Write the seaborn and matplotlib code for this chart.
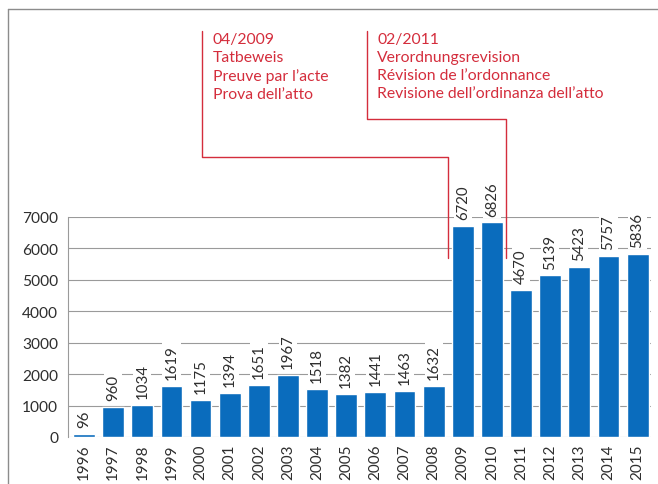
import pandas as pd
import matplotlib.pyplot as plt
from matplotlib.lines import Line2D
import seaborn as sns

# Data
years = [str(y) for y in range(1996, 2016)]
cases = [96, 960, 1034, 1619, 1175, 1394, 1651, 1967, 1518, 1382,
         1441, 1463, 1632, 6720, 6826, 4670, 5139, 5423, 5757, 5836]
yticks = [0, 1000, 2000, 3000, 4000, 5000, 6000, 7000]

event_texts = [
    "04/2009\nTatbeweis\nPreuve par l\u2019acte\nProva dell\u2019atto",
    "02/2011\nVerordnungsrevision\nR\u00e9vision de l\u2019ordonnance\nRevisione dell\u2019ordinanza dell\u2019atto",
]
event_pos = [12.5, 14.5]  # between bars

df = pd.DataFrame({'Jahr': years, 'Anzahl': cases})

sns.set_style('white')
plt.rcParams['font.family'] = ['Lato', 'DejaVu Sans']

fig = plt.figure(figsize=(6.58, 4.85), dpi=100)
ax = fig.add_axes([68 / 658, 47 / 485, 583 / 658, 220 / 485])

bar_color = '#0a6cbd'
red = '#d42d3c'
grey = '#8c8c8c'
txt_col = '#2e2e2e'

sns.barplot(data=df, x='Jahr', y='Anzahl', color=bar_color, width=0.75,
            saturation=1, ax=ax, zorder=2)

ax.set_xlim(-0.55, 19.46)
ax.set_ylim(0, 7000)
ax.set_yticks(yticks)
ax.set_yticklabels([str(t) for t in yticks], fontsize=11.2, color=txt_col)
ax.yaxis.grid(True, color='#9a9a9a', linewidth=0.8, zorder=0)
ax.set_axisbelow(True)
ax.tick_params(axis='y', length=0, pad=7)
ax.tick_params(axis='x', length=0, pad=5, labelsize=11, labelrotation=90, labelcolor=txt_col)
ax.set_xlabel('')
ax.set_ylabel('')
for s in ['top', 'right', 'bottom']:
    ax.spines[s].set_visible(False)
ax.spines['left'].set_color('#9a9a9a')
ax.spines['left'].set_linewidth(0.8)

# value labels
for i, v in enumerate(cases):
    ax.annotate(str(v), (i, v), xytext=(0, 5), textcoords='offset points',
                rotation=90, ha='center', va='bottom', fontsize=10.8, color=txt_col,
                bbox=dict(facecolor='white', edgecolor='none', pad=1.5), zorder=3)

# event markers (red bracket lines), drawn outside the axes
line_tops = [12918, 12918]
line_mids = [8909, 10118]
line_lefts = [4.05, 9.71]
line_bottom = 5700
for k, (txt, pos) in enumerate(zip(event_texts, event_pos)):
    xs = [line_lefts[k], line_lefts[k], pos, pos]
    ys = [line_tops[k], line_mids[k], line_mids[k], line_bottom]
    ax.add_line(Line2D(xs, ys, color=red, linewidth=1.0, clip_on=False, zorder=4))
    ax.text(line_lefts[k] + 0.36, line_tops[k] - 20, txt, color=red, fontsize=11.3,
            ha='left', va='top', linespacing=1.38, clip_on=False)

# outer frame lines (top and left)
fig.add_artist(Line2D([8 / 658, 1.0], [1 - 10 / 485, 1 - 10 / 485], color=grey, linewidth=1.0))
fig.add_artist(Line2D([8 / 658, 8 / 658], [0, 1 - 10 / 485], color=grey, linewidth=1.0))

fig.savefig('out.png', dpi=100)
